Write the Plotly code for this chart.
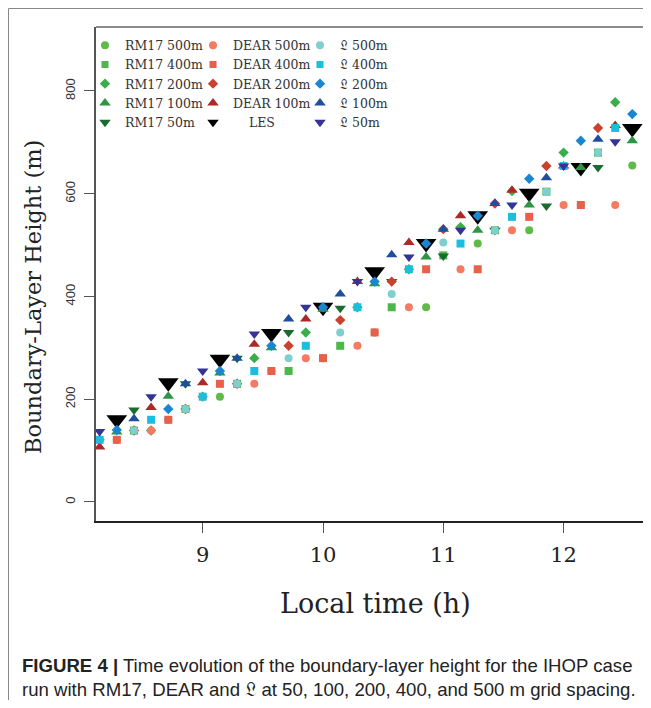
import plotly.graph_objects as go

# ---- data (local time in hours, boundary-layer height in m) ----
t_a = [8.143, 8.571, 9.000, 9.429, 9.857, 10.286, 10.714, 11.143, 11.571, 12.000, 12.429]
t_b = [8.286, 8.714, 9.143, 9.571, 10.000, 10.429, 10.857, 11.286, 11.714, 12.143, 12.571]
t_c = [8.429, 8.857, 9.286, 9.714, 10.143, 10.571, 11.000, 11.429, 11.857, 12.286]

rm17_500 = [121, 160, 205, 255, 280, 330, 379, 503, 529, 578, 655]
rm17_400 = [139, 181, 230, 255, 304, 379, 480, 529, 604, 680]
rm17_200 = [121, 139, 205, 280, 330, 379, 453, 535, 605, 680, 778]
rm17_100 = [136, 206, 251, 300, 375, 425, 477, 529, 578, 651, 703]
rm17_50 = [179, 230, 280, 330, 377, 429, 479, 529, 576, 651]

dear_500 = [121, 139, 205, 230, 280, 304, 379, 453, 529, 578, 578]
dear_400 = [121, 160, 230, 255, 280, 330, 453, 453, 555, 578, None]
dear_200 = [139, 181, 230, 304, 354, 429, 531, 581, 654, 728]
dear_100 = [107, 184, 232, 307, 356, 429, 505, 557, 607, 654, 733]

L_500 = [139, 181, 230, 280, 330, 405, 505, 529, 604, 680]
L_400 = [121, 160, 205, 255, 304, 379, 453, 503, 555, 654, 728]
L_200 = [140, 181, 255, 304, 379, 429, 503, 557, 629, 703, 755]
L_100 = [162, 230, 280, 356, 405, 481, 531, 581, 631, 706]
L_50 = [137, 205, 255, 327, 379, 429, 477, 529, 578, 654, 701]

les = [160, 232, 278, 328, 379, 448, 503, 557, 601, 651, 727]

x_ticks = [9, 10, 11, 12]
y_ticks = [0, 200, 400, 600, 800]

FR = "\U0001D50F"  # fraktur L

# (name, x, y, symbol, color, plot size, legend size, legend id) -- drawing order: LES, RM17, DEAR, L
series = [
    ("LES", t_b, les, "triangle-down", "#000000", 18, 10, "legend2"),
    ("RM17 500m", t_b, rm17_500, "circle", "#5dbb46", 8, 8, "legend"),
    ("RM17 400m", t_c, rm17_400, "square", "#4cb84a", 8, 7, "legend"),
    ("RM17 200m", t_a, rm17_200, "diamond", "#3aae4a", 8, 8, "legend"),
    ("RM17 100m", t_b, rm17_100, "triangle-up", "#2f9444", 10, 10, "legend"),
    ("RM17 50m", t_c, rm17_50, "triangle-down", "#1b6a30", 10, 10, "legend"),
    ("DEAR 500m", t_a, dear_500, "circle", "#f47b62", 8, 8, "legend2"),
    ("DEAR 400m", t_b, dear_400, "square", "#e8604c", 8, 7, "legend2"),
    ("DEAR 200m", t_c, dear_200, "diamond", "#c9422f", 8, 8, "legend2"),
    ("DEAR 100m", t_a, dear_100, "triangle-up", "#ad2828", 10, 10, "legend2"),
    (FR + " 500m", t_c, L_500, "circle", "#7fcfcf", 8, 8, "legend3"),
    (FR + " 400m", t_a, L_400, "square", "#1cbee0", 8, 7, "legend3"),
    (FR + " 200m", t_b, L_200, "diamond", "#1a86d1", 8, 8, "legend3"),
    (FR + " 100m", t_c, L_100, "triangle-up", "#1f4e9e", 10, 10, "legend3"),
    (FR + " 50m", t_a, L_50, "triangle-down", "#363396", 10, 10, "legend3"),
]

legend_rank = {
    "RM17 500m": 1, "RM17 400m": 2, "RM17 200m": 3, "RM17 100m": 4, "RM17 50m": 5,
    "DEAR 500m": 1, "DEAR 400m": 2, "DEAR 200m": 3, "DEAR 100m": 4, "LES": 5,
    FR + " 500m": 1, FR + " 400m": 2, FR + " 200m": 3, FR + " 100m": 4, FR + " 50m": 5,
}

serif = "DejaVu Serif, Liberation Serif, serif"

fig = go.Figure()
for name, xs, ys, sym, col, sz, lsz, lg in series:
    fig.add_trace(go.Scatter(
        x=xs, y=ys, mode="markers", name=name, showlegend=False,
        marker=dict(symbol=sym, color=col, size=sz, line=dict(width=0)),
        cliponaxis=False,
    ))
# legend-only entries (no data) so legend symbols keep a small size
for name, xs, ys, sym, col, sz, lsz, lg in series:
    label = name if name != "LES" else "\u00a0\u00a0\u00a0\u00a0LES"
    label = '<span style="font-size:12.5px">' + label + "</span>"
    fig.add_trace(go.Scatter(
        x=[None], y=[None], mode="markers", name=label, showlegend=True,
        legend=lg, legendrank=legend_rank[name],
        marker=dict(symbol=sym, color=col, size=lsz, line=dict(width=0)),
    ))

# page offset of the figure (default body margin) is 8 px
OFF = 8
W, H = 635, 692
L, R, T, B = 88, 0, 19, 179
pw, ph = W - L - R, H - T - B


def px(xp):
    return (xp - OFF - L) / pw


def py(yp):
    return (H - B - (yp - OFF)) / ph


leg_common = dict(
    orientation="v", yanchor="top", xanchor="left",
    font=dict(family=serif, size=12.5, color="#333333"),
    itemsizing="trace", tracegroupgap=0, bgcolor="rgba(0,0,0,0)",
    traceorder="normal", borderwidth=0,
)

fig.update_layout(
    width=W, height=H, margin=dict(l=L, r=R, t=T, b=B),
    paper_bgcolor="white", plot_bgcolor="white",
    showlegend=True,
    legend=dict(x=px(85), y=py(30.5), **leg_common),
    legend2=dict(x=px(193), y=py(30.5), **leg_common),
    legend3=dict(x=px(300), y=py(30.5), **leg_common),
    xaxis=dict(
        range=[8.113, 12.660], tickvals=x_ticks, ticktext=[str(v) for v in x_ticks],
        showgrid=False, zeroline=False, ticks="outside", ticklen=10, tickcolor="#555555",
        tickfont=dict(family=serif, size=21, color="#222222"),
        showline=True, linecolor="#222222", linewidth=2, ticklabelstandoff=4,
    ),
    yaxis=dict(
        range=[-37, 924.5], tickvals=y_ticks, ticktext=[str(v) for v in y_ticks],
        showgrid=False, zeroline=False, ticks="outside", ticklen=10, tickcolor="#555555",
        tickangle=-90, tickfont=dict(family="Liberation Sans, Arial, sans-serif", size=13, color="#333333"),
        showline=True, linecolor="#555555", linewidth=1.5, ticklabelstandoff=4,
    ),
)

shapes = [
    # top of plot box
    dict(type="line", xref="paper", yref="paper", x0=0, x1=1, y0=1, y1=1,
         line=dict(color="#666666", width=1.5)),
    # outer figure frame
    dict(type="line", xref="paper", yref="paper", x0=px(8.5), x1=px(8.5), y0=py(8.5), y1=py(700),
         line=dict(color="#888888", width=1)),
    dict(type="line", xref="paper", yref="paper", x0=px(8.5), x1=px(651), y0=py(8.5), y1=py(8.5),
         line=dict(color="#888888", width=1)),
]
fig.update_layout(shapes=shapes)

fig.add_annotation(text="Local time (h)", xref="paper", yref="paper", x=px(375), y=py(603),
                   showarrow=False, font=dict(family=serif, size=27, color="#222222"),
                   xanchor="center", yanchor="middle")
fig.add_annotation(text="Boundary-Layer Height (m)", xref="paper", yref="paper", x=px(33), y=py(297),
                   showarrow=False, textangle=-90, font=dict(family=serif, size=22.5, color="#222222"),
                   xanchor="center", yanchor="middle")
fig.add_annotation(
    text="<b>FIGURE 4 |</b> Time evolution of the boundary-layer height for the IHOP case<br>"
         "run with RM17, DEAR and " + FR + " at 50, 100, 200, 400, and 500 m grid spacing.",
    xref="paper", yref="paper", x=px(20), y=py(677), showarrow=False, align="left",
    xanchor="left", yanchor="middle",
    font=dict(family="Liberation Sans, Arial, sans-serif", size=18.6, color="#222222"),
)

fig.write_html("out.html")
